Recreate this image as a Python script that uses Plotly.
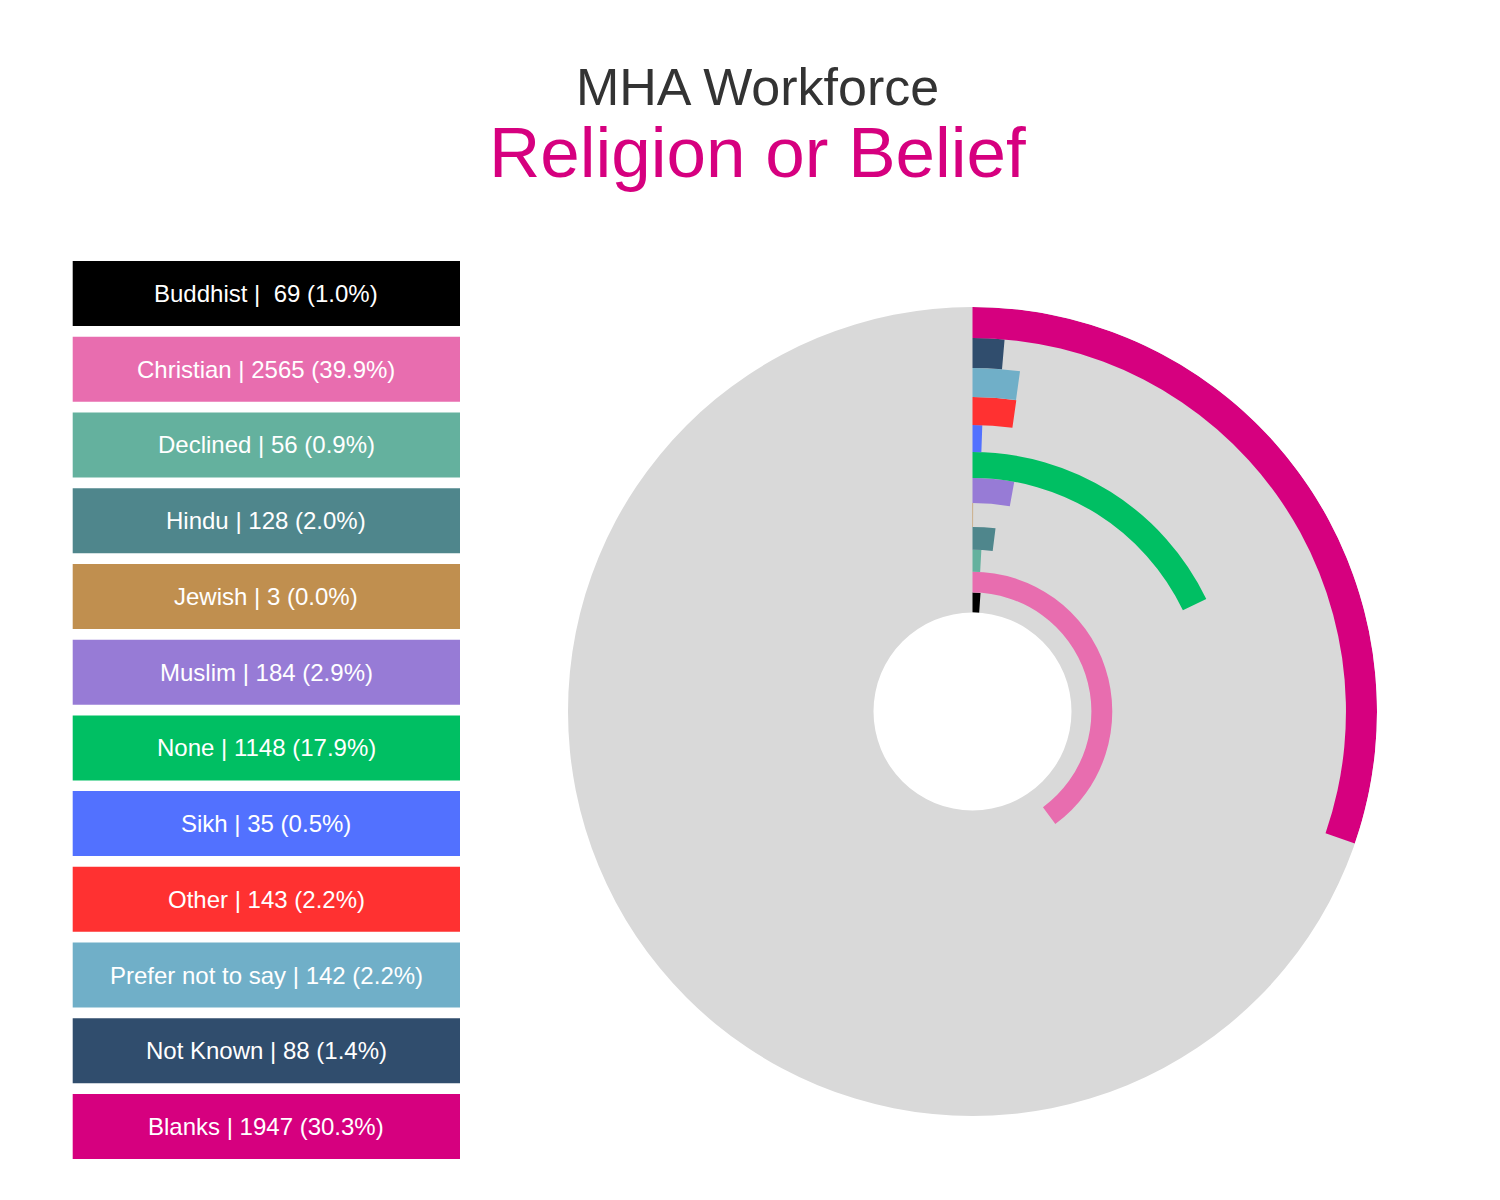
import plotly.graph_objects as go

# ---- data ----
categories = ["Buddhist", "Christian", "Declined", "Hindu", "Jewish", "Muslim",
              "None", "Sikh", "Other", "Prefer not to say", "Not Known", "Blanks"]
counts = [69, 2565, 56, 128, 3, 184, 1148, 35, 143, 142, 88, 1947]
percents = [1.0, 39.9, 0.9, 2.0, 0.0, 2.9, 17.9, 0.5, 2.2, 2.2, 1.4, 30.3]
# share of the headcount behind the percentages (so 3 people still show a sliver)
exact_share = [c / 6428 * 100 for c in counts]

colors = ["#000000", "#E86DAF", "#64B19E", "#4F868C", "#C08F4F", "#977BD6",
          "#00BF63", "#5271FF", "#FF3131", "#70AFC8", "#304D6D", "#D6007F"]

FONT = "Liberation Sans, Arial, Helvetica, sans-serif"

# ---- ring layout (style): ring widths grow outward ----
n = len(categories)
def edge(k):
    return 19.375 * k + 0.507 * k * k
bases = [edge(k) for k in range(n)]
widths_r = [edge(k + 1) - edge(k) for k in range(n)]
outer = edge(n)

spans = [p / 100 * 360 for p in exact_share]

fig = go.Figure()
fig.add_trace(go.Barpolar(
    r=widths_r,
    base=bases,
    theta=[s / 2 for s in spans],
    width=spans,
    marker=dict(color=colors, line=dict(width=0)),
    hoverinfo="skip",
    showlegend=False,
))

cx, cy, R = 972.5, 711.5, 404.5
fig.update_layout(
    width=1500, height=1200,
    margin=dict(l=0, r=0, t=0, b=0),
    paper_bgcolor="white",
    showlegend=False,
    polar=dict(
        domain=dict(x=[(cx - R) / 1500, (cx + R) / 1500],
                    y=[1 - (cy + R) / 1200, 1 - (cy - R) / 1200]),
        bgcolor="#D9D9D9",
        hole=99 / R,
        bargap=0,
        radialaxis=dict(range=[0, outer], visible=False, showgrid=False),
        angularaxis=dict(rotation=90, direction="clockwise", visible=False,
                         showgrid=False, showline=False, ticks=""),
    ),
)

# ---- titles ----
fig.add_annotation(text="MHA Workforce", x=757.5 / 1500, y=1 - 87.5 / 1200,
                   xref="paper", yref="paper", xanchor="center", yanchor="middle",
                   showarrow=False, font=dict(family=FONT, size=52, color="#333333"))
fig.add_annotation(text="Religion or Belief", x=757.5 / 1500, y=1 - 153 / 1200,
                   xref="paper", yref="paper", xanchor="center", yanchor="middle",
                   showarrow=False, font=dict(family=FONT, size=71, color="#D6007F"))

# ---- legend boxes ----
box_x0, box_x1 = 72.7, 460.0
box_top0, box_pitch, box_h = 261.0, 75.73, 65.0
for i, (cat, cnt, pct, col) in enumerate(zip(categories, counts, percents, colors)):
    top = box_top0 + i * box_pitch
    fig.add_shape(type="rect", xref="paper", yref="paper",
                  x0=box_x0 / 1500, x1=box_x1 / 1500,
                  y0=1 - (top + box_h) / 1200, y1=1 - top / 1200,
                  fillcolor=col, line=dict(width=0), layer="above")
    sep = " |  " if cat == "Buddhist" else " | "
    label = f"{cat}{sep}{cnt} ({pct:.1f}%)"
    fig.add_annotation(text=label, x=(box_x0 + box_x1) / 2 / 1500,
                       y=1 - (top + box_h / 2) / 1200,
                       xref="paper", yref="paper", xanchor="center", yanchor="middle",
                       showarrow=False, font=dict(family=FONT, size=24, color="white"))

fig.write_html("out.html")
